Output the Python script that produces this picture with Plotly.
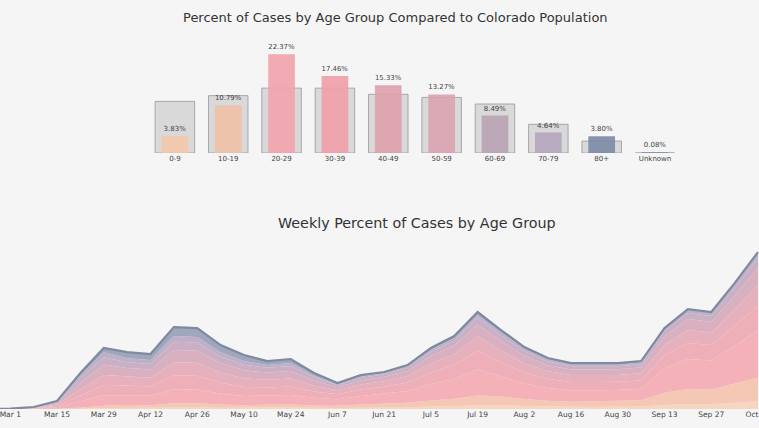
import plotly.graph_objects as go

# ---------------- Top chart data ----------------
age_groups = ["0-9", "10-19", "20-29", "30-39", "40-49", "50-59", "60-69", "70-79", "80+", "Unknown"]
case_pct = [3.83, 10.79, 22.37, 17.46, 15.33, 13.27, 8.49, 4.64, 3.80, 0.08]
pop_pct = [11.7, 13.0, 14.7, 14.7, 13.3, 12.6, 11.1, 6.5, 2.7, 0.0]
case_labels = ["3.83%", "10.79%", "22.37%", "17.46%", "15.33%", "13.27%", "8.49%", "4.64%", "3.80%", "0.08%"]
bar_colors = ["#f3c6a9", "#f0c0a6", "#f2a3ab", "#ef9fa8", "#dda0ab", "#d9a3b0",
              "#b9a2b3", "#b4a4bd", "#7c88a6", "#8b8fa8"]

# ---------------- Bottom chart data ----------------
weeks = ["2020-02-23", "2020-03-01", "2020-03-08", "2020-03-15", "2020-03-22", "2020-03-29",
         "2020-04-05", "2020-04-12", "2020-04-19", "2020-04-26", "2020-05-03", "2020-05-10",
         "2020-05-17", "2020-05-24", "2020-05-31", "2020-06-07", "2020-06-14", "2020-06-21",
         "2020-06-28", "2020-07-05", "2020-07-12", "2020-07-19", "2020-07-26", "2020-08-02",
         "2020-08-09", "2020-08-16", "2020-08-23", "2020-08-30", "2020-09-06", "2020-09-13",
         "2020-09-20", "2020-09-27", "2020-10-04", "2020-10-11"]
g0_9 = [0, 0, 1, 2, 11, 27, 34, 33, 49, 49, 38, 32, 43, 45, 32, 31, 41, 44, 53, 73, 88, 116, 119, 93, 77, 69, 69, 72, 72, 122, 150, 146, 189, 236]
g10_19 = [0, 0, 2, 7, 32, 73, 86, 83, 123, 122, 96, 81, 86, 90, 76, 70, 92, 111, 132, 183, 219, 291, 261, 205, 168, 152, 159, 166, 187, 365, 450, 437, 567, 707]
g20_29 = [0, 2, 10, 41, 184, 311, 291, 280, 418, 413, 326, 275, 274, 285, 227, 195, 255, 300, 356, 494, 591, 786, 593, 465, 383, 345, 338, 331, 346, 729, 900, 873, 1134, 1413]
g30_39 = [0, 2, 10, 41, 184, 311, 291, 280, 418, 413, 326, 275, 245, 255, 194, 148, 194, 211, 251, 348, 416, 553, 427, 335, 275, 248, 248, 248, 252, 389, 480, 466, 605, 754]
g40_49 = [0, 2, 10, 41, 184, 302, 274, 264, 394, 389, 307, 259, 230, 240, 173, 117, 153, 167, 198, 275, 329, 437, 356, 279, 230, 207, 207, 207, 216, 316, 390, 378, 491, 612]
g50_59 = [0, 2, 11, 43, 194, 311, 256, 248, 369, 364, 288, 243, 216, 225, 151, 94, 122, 133, 158, 220, 263, 349, 284, 223, 184, 166, 166, 166, 173, 267, 330, 320, 416, 518]
g60_69 = [0, 1, 8, 31, 140, 220, 171, 165, 246, 243, 192, 162, 144, 150, 97, 55, 71, 78, 92, 128, 153, 204, 166, 130, 107, 97, 97, 97, 101, 146, 180, 175, 227, 283]
g70_79 = [0, 1, 5, 19, 86, 146, 120, 115, 172, 170, 134, 113, 86, 90, 54, 31, 41, 33, 40, 55, 66, 87, 95, 74, 61, 55, 55, 52, 52, 73, 90, 87, 113, 141]
g80 = [0, 0, 3, 15, 65, 129, 187, 182, 271, 267, 213, 180, 116, 120, 76, 39, 51, 33, 40, 54, 65, 87, 69, 56, 45, 41, 41, 41, 41, 23, 30, 28, 38, 46]

area_series = [g0_9, g10_19, g20_29, g30_39, g40_49, g50_59, g60_69, g70_79, g80]
area_names = ["0-9", "10-19", "20-29", "30-39", "40-49", "50-59", "60-69", "70-79", "80+"]
area_colors = ["#f6d5c1", "#f4c8b4", "#f4b1b7", "#efafb8", "#e6b0bc", "#d9b0c0",
               "#cbb0c5", "#bdb0c8", "#a0a6bc"]

tick_vals = ["2020-03-01", "2020-03-15", "2020-03-29", "2020-04-12", "2020-04-26", "2020-05-10",
             "2020-05-24", "2020-06-07", "2020-06-21", "2020-07-05", "2020-07-19", "2020-08-02",
             "2020-08-16", "2020-08-30", "2020-09-13", "2020-09-27", "2020-10-11"]
tick_text = ["Mar 1", "Mar 15", "Mar 29", "Apr 12", "Apr 26", "May 10", "May 24", "Jun 7",
             "Jun 21", "Jul 5", "Jul 19", "Aug 2", "Aug 16", "Aug 30", "Sep 13", "Sep 27", "Oct 11"]

FONT = "DejaVu Sans"
BG = "#f5f5f5"
W, H = 771, 428

fig = go.Figure()

# population bars (behind)
fig.add_trace(go.Bar(
    x=age_groups, y=pop_pct, width=0.74, name="Colorado population",
    marker=dict(color="rgba(175,175,178,0.40)", line=dict(color="rgba(160,160,165,0.9)", width=1)),
    xaxis="x", yaxis="y", showlegend=False, hoverinfo="skip"))

# case bars
fig.add_trace(go.Bar(
    x=age_groups, y=case_pct, width=0.5, name="Cases",
    marker=dict(color=bar_colors, opacity=0.9, line=dict(width=0)),
    text=case_labels, textposition="outside", cliponaxis=False,
    textfont=dict(family=FONT, size=7, color="#444"),
    xaxis="x", yaxis="y", showlegend=False))

# stacked areas
for name, vals, col in zip(area_names, area_series, area_colors):
    top = name == "80+"
    fig.add_trace(go.Scatter(
        x=weeks, y=vals, name=name, stackgroup="one", mode="lines",
        line=dict(width=2.2 if top else 0, color="#7f899f" if top else col),
        fillcolor=col, xaxis="x2", yaxis="y2", showlegend=False))

fig.update_layout(
    width=W, height=H, autosize=False,
    margin=dict(l=0, r=0, t=0, b=0),
    paper_bgcolor=BG, plot_bgcolor=BG,
    barmode="overlay", bargap=0.2,
    font=dict(family=FONT, color="#333"),
    xaxis=dict(domain=[0.195, 0.897], showgrid=False, zeroline=False, showline=False,
               tickfont=dict(size=7, color="#444"), ticks="", anchor="y"),
    yaxis=dict(domain=[0.6425, 0.890], range=[0, 24], visible=False, anchor="x"),
    xaxis2=dict(domain=[0, 1], type="date", range=["2020-02-26 21:50", "2020-10-11 14:24"],
                tickvals=tick_vals, ticktext=tick_text, showgrid=False, zeroline=False,
                showline=False, ticks="", ticklabeloverflow="allow",
                tickfont=dict(size=7.5, color="#444"), anchor="y2"),
    yaxis2=dict(domain=[0.0444, 0.439], range=[0, 5070], visible=False, anchor="x2"),
    annotations=[
        dict(text="Percent of Cases by Age Group Compared to Colorado Population",
             x=0.5204, y=410 / H, xref="paper", yref="paper", showarrow=False,
             xanchor="center", yanchor="middle",
             font=dict(family=FONT, size=13, color="#333")),
        dict(text="Weekly Percent of Cases by Age Group",
             x=0.5481, y=205 / H, xref="paper", yref="paper", showarrow=False,
             xanchor="center", yanchor="middle",
             font=dict(family=FONT, size=14.3, color="#333")),
    ],
)

fig.write_html("out.html",
               config={"displayModeBar": False, "responsive": False},
               post_script="document.body.style.margin='0';document.body.style.overflow='hidden';"
                           "document.documentElement.style.background='#f5f5f5';"
                           "document.body.style.background='#f5f5f5';")
